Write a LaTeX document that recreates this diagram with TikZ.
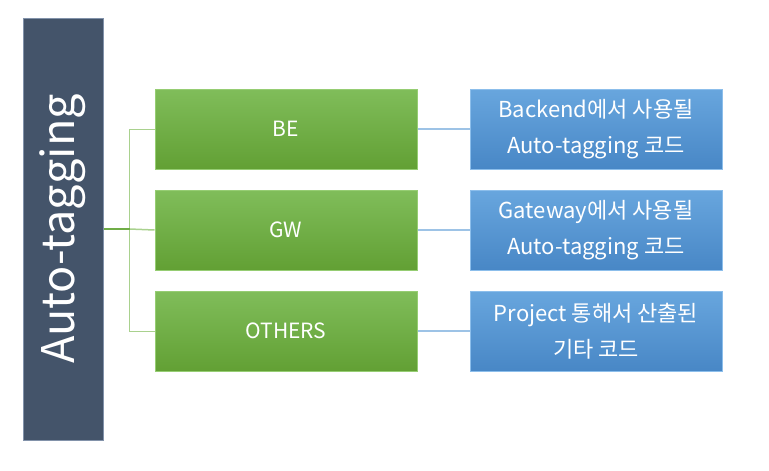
\documentclass[tikz,border=0pt]{standalone}
\usepackage{fontspec}
\setmainfont{Noto Sans CJK KR}
\usepackage{xcolor}
\usepackage{tikz}
\usetikzlibrary{
  positioning,
  calc
}
\definecolor{SlateBlue}{RGB}{68, 84, 106}
\definecolor{SlateEdge}{RGB}{130, 146, 170}
\definecolor{LeafTop}{RGB}{128, 189, 90}
\definecolor{LeafBottom}{RGB}{98, 160, 52}
\definecolor{LeafEdge}{RGB}{150, 205, 115}
\definecolor{SkyTop}{RGB}{104, 166, 222}
\definecolor{SkyBottom}{RGB}{72, 135, 198}
\definecolor{SkyEdge}{RGB}{140, 190, 235}
\definecolor{LeafLine}{RGB}{112, 173, 71}
\definecolor{LeafLight}{RGB}{169, 209, 142}
\definecolor{SkyLine}{RGB}{157, 195, 230}
\tikzset{
    rootbox/.style={rectangle, fill=SlateBlue, draw=SlateEdge, line width=1pt,
        minimum width=80pt, minimum height=422pt, inner sep=0pt},
    groupbox/.style={rectangle, top color=LeafTop, bottom color=LeafBottom, draw=LeafEdge,
        line width=1pt, minimum width=262pt, minimum height=80pt, inner sep=0pt,
        text=white, font=\fontsize{21}{25}\selectfont},
    descbox/.style={rectangle, top color=SkyTop, bottom color=SkyBottom, draw=SkyEdge,
        line width=1pt, minimum width=252pt, minimum height=80pt, inner sep=0pt,
        text=white, align=center, font=\fontsize{22}{36}\selectfont},
}

\begin{document}
\begin{tikzpicture}[x=1pt, y=-1pt]
    \useasboundingbox (0,0) rectangle (769,471);
    % root
    \node[rootbox] (root) at (63,229) {};
    \node[rotate=90, text=white, font=\fontsize{45}{50}\selectfont] (roottext) at (root.center) {Auto-tagging};
    % groups
    \node[groupbox] (be) at (286,129) {BE};
    \node[groupbox, below=20pt of be] (gw) {GW};
    \node[groupbox, below=20pt of gw] (others) {OTHERS};
    % descriptions
    \node[descbox] (bedesc) at (596,129) {Backend에서 사용될\\Auto-tagging 코드};
    \node[descbox, below=20pt of bedesc] (gwdesc) {Gateway에서 사용될\\Auto-tagging 코드};
    \node[descbox, below=20pt of gwdesc] (othersdesc) {Project 통해서 산출된\\기타 코드};
    % connectors
    \coordinate (fork) at ($(root.east)+(26,0)$);
    \draw[LeafLight, line width=1pt] (fork) |- (be.west);
    \draw[LeafLight, line width=1pt] (fork) |- (others.west);
    \draw[LeafLight, line width=1.5pt] (fork) -- (gw.west);
    \draw[LeafLine, line width=1.5pt] (root.east) -- (fork);
    \draw[SkyLine, line width=1.2pt] (be.east) -- (bedesc.west);
    \draw[SkyLine, line width=1.2pt] (gw.east) -- (gwdesc.west);
    \draw[SkyLine, line width=1.2pt] (others.east) -- (othersdesc.west);
\end{tikzpicture}
\end{document}
